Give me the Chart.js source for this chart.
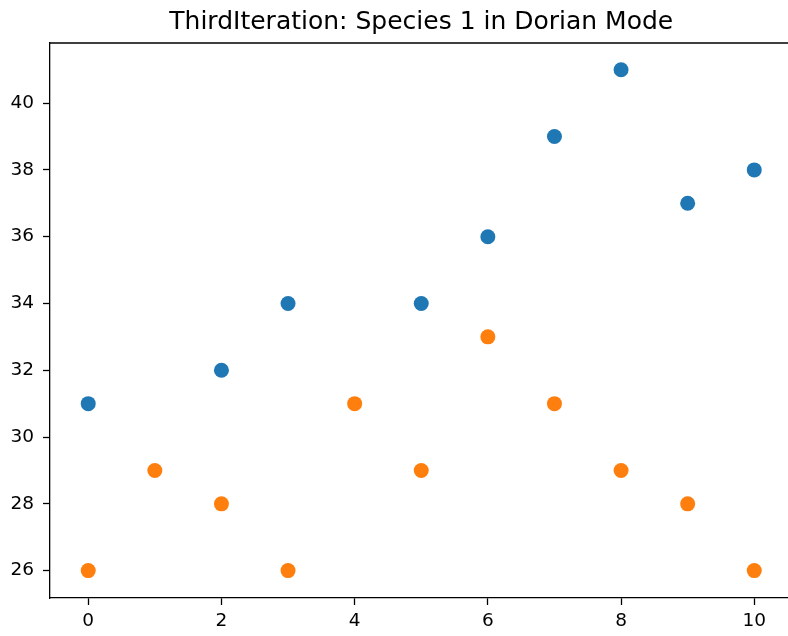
<!DOCTYPE html>
<html>
<head>
<meta charset="utf-8">
<script src="https://cdn.jsdelivr.net/npm/chart.js@4"></script>
<style>
  html, body { margin: 0; padding: 0; background: #fff; overflow: hidden; }
  #wrap { position: relative; width: 800px; height: 636px; }
</style>
</head>
<body>
<div id="wrap"><canvas id="c" width="800" height="636"></canvas></div>
<script>
const titleText = "ThirdIteration: Species 1 in Dorian Mode";
const xValues = [0, 1, 2, 3, 4, 5, 6, 7, 8, 9, 10];
const blueValues = [31, null, 32, 34, null, 34, 36, 39, 41, 37, 38];
const orangeValues = [26, 29, 28, 26, 31, 29, 33, 31, 29, 28, 26];
const xTicks = [0, 2, 4, 6, 8, 10];
const yTicks = [26, 28, 30, 32, 34, 36, 38, 40];

const toPoints = (ys) => xValues.map((x, i) => ({ x: x, y: ys[i] })).filter(p => p.y !== null);

const frame = {
  id: 'frame',
  afterDraw(chart) {
    const { ctx, chartArea: a } = chart;
    ctx.save();
    ctx.strokeStyle = '#000';
    ctx.lineWidth = 1.3;
    ctx.beginPath();
    ctx.moveTo(a.left, a.top);
    ctx.lineTo(a.right, a.top);
    ctx.lineTo(a.right, a.bottom);
    ctx.stroke();
    ctx.restore();
  }
};

const FONT = "'DejaVu Sans', sans-serif";

new Chart(document.getElementById('c'), {
  type: 'scatter',
  data: {
    datasets: [
      { label: 'blue', data: toPoints(blueValues), backgroundColor: '#1f77b4', order: 1 },
      { label: 'orange', data: toPoints(orangeValues), backgroundColor: '#ff7f0e', order: 0 }
    ]
  },
  options: {
    responsive: false,
    animation: false,
    events: [],
    elements: { point: { radius: 7.5, borderWidth: 0, hoverRadius: 7.5 } },
    layout: { padding: { left: 0, right: 6, top: 0, bottom: 0 } },
    plugins: {
      legend: { display: false },
      tooltip: { enabled: false },
      title: {
        display: true,
        text: titleText,
        fullSize: false,
        color: '#000',
        font: { family: FONT, size: 25, weight: 'normal', lineHeight: 1.2 },
        padding: { top: 7, bottom: 6 }
      }
    },
    scales: {
      x: {
        type: 'linear',
        min: -0.574,
        max: 10.574,
        afterBuildTicks: (s) => { s.ticks = xTicks.map(v => ({ value: v })); },
        afterFit: (s) => { s.height = 38; },
        grid: { drawOnChartArea: false, drawTicks: true, tickLength: 7, tickColor: '#000', tickWidth: 1.3 },
        border: { display: true, color: '#000', width: 1.3 },
        ticks: { color: '#000', font: { family: FONT, size: 18.5 }, padding: 5, maxRotation: 0 }
      },
      y: {
        type: 'linear',
        min: 25.18,
        max: 41.8,
        afterBuildTicks: (s) => { s.ticks = yTicks.map(v => ({ value: v })); },
        afterFit: (s) => { s.width = 50; },
        grid: { drawOnChartArea: false, drawTicks: true, tickLength: 7, tickColor: '#000', tickWidth: 1.3 },
        border: { display: true, color: '#000', width: 1.3 },
        ticks: { color: '#000', font: { family: FONT, size: 18.5 }, padding: 9 }
      }
    }
  },
  plugins: [frame]
});
</script>
</body>
</html>
